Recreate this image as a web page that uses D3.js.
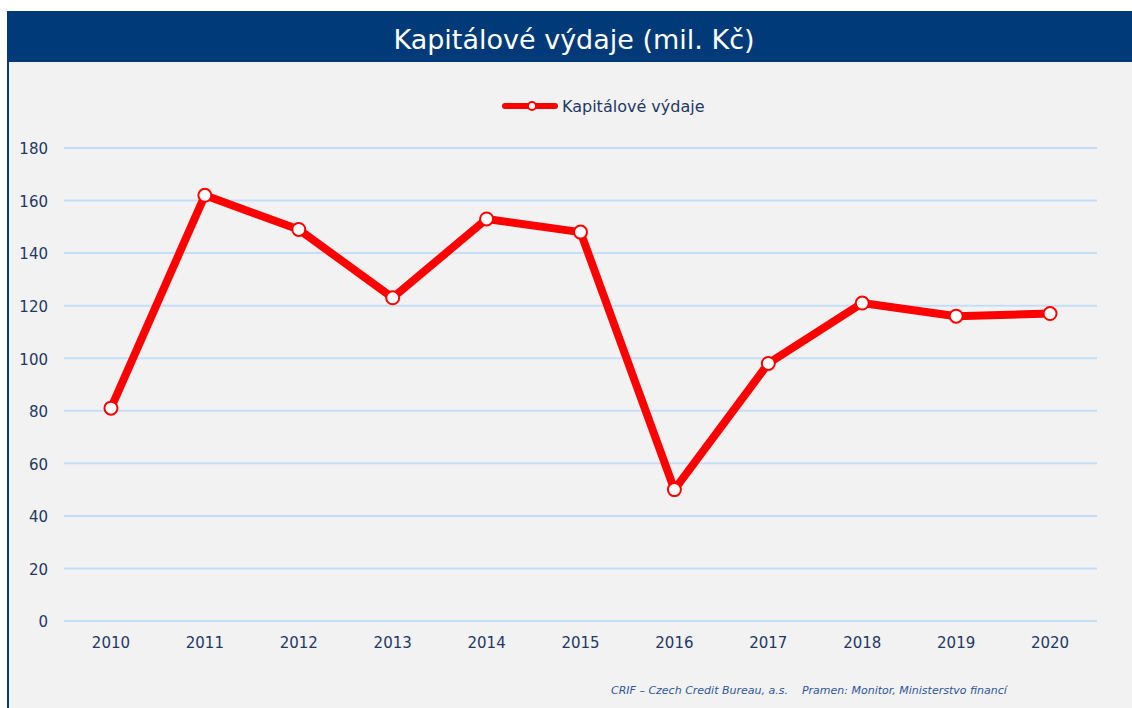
<!DOCTYPE html>
<html>
<head>
<meta charset="utf-8">
<script src="https://cdn.jsdelivr.net/npm/d3@7"></script>
<style>
  body { margin: 0; background: #fff; }
  svg { display: block; font-family: "DejaVu Sans", Verdana, sans-serif; }
</style>
</head>
<body>
<svg id="chart" width="1132" height="708"></svg>
<script>
var years = ["2010", "2011", "2012", "2013", "2014", "2015", "2016", "2017", "2018", "2019", "2020"];
var capex = [81, 162, 149, 123, 153, 148, 50, 98, 121, 116, 117];
var yTicks = [0, 20, 40, 60, 80, 100, 120, 140, 160, 180];

var svg = d3.select("#chart");
var W = 1132, H = 708;
var navy = "#003a78", textBlue = "#1f3864";

// frame + header
svg.append("rect").attr("x", 7).attr("y", 11).attr("width", W).attr("height", H)
  .attr("fill", "#f2f2f2");
svg.append("rect").attr("x", 7).attr("y", 11).attr("width", W).attr("height", 51)
  .attr("fill", navy);
svg.append("line").attr("x1", 8).attr("x2", 8).attr("y1", 11).attr("y2", H)
  .attr("stroke", navy).attr("stroke-width", 2);

svg.append("text").attr("x", 574).attr("y", 49).attr("text-anchor", "middle")
  .attr("fill", "#fff").attr("font-size", 27).text("Kapitálové výdaje (mil. Kč)");

var pLeft = 64, pRight = 1097, pTop = 148, pBottom = 621;

var x = d3.scaleBand().domain(years).range([pLeft, pRight]);
var y = d3.scaleLinear().domain([0, 180]).range([pBottom, pTop]);

// grid
svg.append("g").selectAll("line").data(yTicks).enter().append("line")
  .attr("x1", pLeft).attr("x2", pRight)
  .attr("y1", function(d) { return y(d); }).attr("y2", function(d) { return y(d); })
  .attr("stroke", "#c5def8").attr("stroke-width", 2);

// y axis
var yAxis = svg.append("g").attr("transform", "translate(" + (pLeft - 16) + ",1)")
  .call(d3.axisLeft(y).tickValues(yTicks).tickSize(0).tickPadding(0));
yAxis.select(".domain").remove();
yAxis.selectAll("text").attr("fill", textBlue).attr("font-size", 15)
  .attr("font-family", "DejaVu Sans, Verdana, sans-serif");

// x axis
var xAxis = svg.append("g").attr("transform", "translate(0," + (pBottom + 16) + ")")
  .call(d3.axisBottom(x).tickSize(0).tickPadding(0));
xAxis.select(".domain").remove();
xAxis.selectAll("text").attr("fill", textBlue).attr("font-size", 15)
  .attr("font-family", "DejaVu Sans, Verdana, sans-serif");

// line
var cx = function(d, i) { return x(years[i]) + x.bandwidth() / 2; };
var line = d3.line().x(cx).y(function(d) { return y(d); });

svg.append("path").datum(capex).attr("d", line)
  .attr("fill", "none").attr("stroke", "#ff0000").attr("stroke-width", 8)
  .attr("stroke-linejoin", "round");

svg.append("g").selectAll("circle").data(capex).enter().append("circle")
  .attr("cx", cx).attr("cy", function(d) { return y(d); }).attr("r", 6.5)
  .attr("fill", "#fff").attr("stroke", "#ff0000").attr("stroke-width", 2);

// legend
var lg = svg.append("g").attr("transform", "translate(505,106)");
lg.append("line").attr("x1", 0).attr("x2", 50).attr("stroke", "#ff0000")
  .attr("stroke-width", 6).attr("stroke-linecap", "round");
lg.append("circle").attr("cx", 27).attr("r", 4).attr("fill", "#fff")
  .attr("stroke", "#ff0000").attr("stroke-width", 2);
lg.append("text").attr("x", 57).attr("y", 6).attr("fill", textBlue)
  .attr("font-size", 16).text("Kapitálové výdaje");

// footer
svg.append("text").attr("x", 611).attr("y", 694).attr("fill", "#2f5597")
  .attr("font-size", 11).attr("font-style", "italic")
  .attr("xml:space", "preserve")
  .text("CRIF – Czech Credit Bureau, a.s.    Pramen: Monitor, Ministerstvo financí");
</script>
</body>
</html>
